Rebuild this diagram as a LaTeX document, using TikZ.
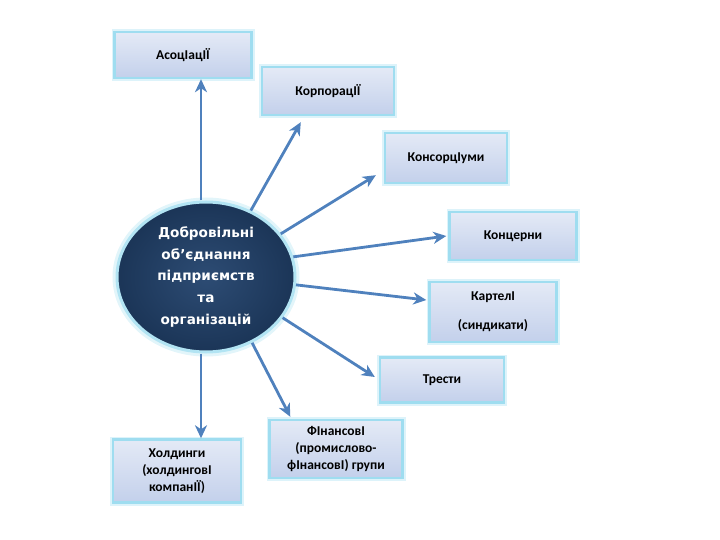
\documentclass[tikz,border=0pt]{standalone}
\usepackage{fontspec}
\setmainfont{Carlito}
\newfontfamily\hubfont{DejaVu Sans}
\usetikzlibrary{positioning,arrows.meta,calc,shapes.geometric}
\definecolor{boxBlue}{HTML}{C3D0EB}
\definecolor{boxTop}{HTML}{E4EAF6}
\definecolor{glowCyan}{HTML}{9FDDF0}
\definecolor{hubNavy}{HTML}{1B3557}
\definecolor{hubLight}{HTML}{2D4C74}
\definecolor{linkBlue}{HTML}{4F81BD}
\tikzset{
    orgbox/.style={draw=glowCyan,line width=2.4pt,top color=boxTop,bottom color=boxBlue,
        preaction={draw=glowCyan!35,line width=6pt},
        minimum width=128pt,minimum height=48pt,align=center,inner sep=2pt,
        font=\fontsize{13.5}{16.8}\selectfont\bfseries},
    hubnode/.style={ellipse,draw=glowCyan!80,line width=3pt,inner color=hubLight,outer color=hubNavy,
        preaction={draw=glowCyan!30,line width=9pt},
        minimum width=178pt,minimum height=150pt,align=center,inner sep=0pt,text=white,
        font=\hubfont\fontsize{13.6}{21.7}\selectfont\bfseries},
    link/.style={-{Stealth[length=13pt,width=12pt,inset=4pt]},draw=linkBlue,line width=2.8pt}
}
\begin{document}
\begin{tikzpicture}[x=1pt,y=-1pt]
    \useasboundingbox (0,0) rectangle (720,540);
    % hub
    \node[hubnode] (centre) at (206,277) {Добровільні\\об’єднання\\підприємств\\та\\організацій};
    % forms of association
    \node[orgbox,minimum width=137pt,minimum height=46pt] (assoc) at (183,55) {АсоцІацІЇ};
    \node[orgbox,minimum width=132pt] (corp) at (328,91) {КорпорацІЇ};
    \node[orgbox,minimum width=122pt,minimum height=50pt] (cons) at (446,158) {КонсорцІуми};
    \node[orgbox,minimum width=127pt] (conc) at (513,236) {Концерни};
    \node[orgbox,minimum width=127pt,minimum height=60pt,font=\fontsize{13.5}{29}\selectfont\bfseries] (cart) at (493,312) {КартелІ\\(синдикати)};
    \node[orgbox,minimum width=124pt,minimum height=45pt] (trust) at (442,380) {Трести};
    \node[orgbox,minimum width=133pt,minimum height=58pt] (fin) at (336,449) {ФІнансовІ\\(промислово-\\фІнансовІ) групи};
    \node[orgbox,minimum width=128pt,minimum height=63pt] (hold) at (177,471) {Холдинги\\(холдинговІ\\компанІЇ)};
    % links
    \draw[link] ([xshift=-5pt]centre.north) -- ([xshift=-5pt]centre.north |- assoc.south);
    \draw[link] (centre.56) -- ([xshift=40pt,yshift=-6pt]corp.south west);
    \draw[link] (centre.30) -- ([xshift=-8pt,yshift=9pt]cons.south west);
    \draw[link] (centre.13) -- ([xshift=-2pt]conc.west);
    \draw[link] (centre.-5) -- ([xshift=-2pt,yshift=12pt]cart.west);
    \draw[link] (centre.-28) -- ([xshift=-4pt,yshift=3pt]trust.west);
    \draw[link] (centre.-55) -- ([xshift=22pt,yshift=2pt]fin.north west);
    \draw[link] ([xshift=-5pt]centre.south) -- ([xshift=-5pt]centre.south |- hold.north);
\end{tikzpicture}
\end{document}
